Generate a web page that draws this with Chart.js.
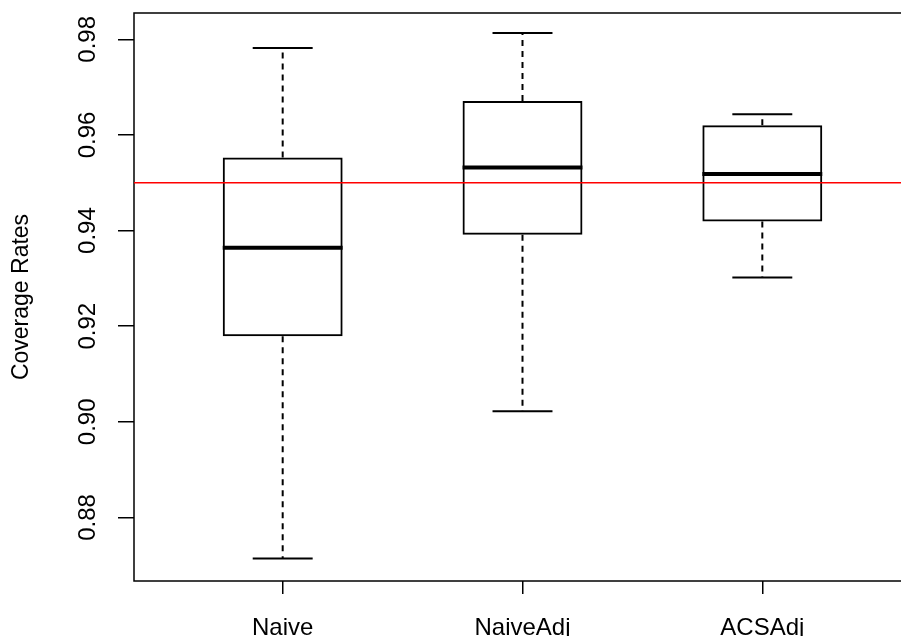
<!DOCTYPE html>
<html>
<head>
<meta charset="utf-8">
<script src="https://cdn.jsdelivr.net/npm/chart.js@4/dist/chart.umd.min.js"></script>
<style>
  html, body { margin: 0; padding: 0; background: #ffffff; overflow: hidden; }
  #wrap { width: 940px; height: 636px; }
</style>
</head>
<body>
<div id="wrap"><canvas id="c" width="940" height="636"></canvas></div>
<script>
// ---- data ----
const categories   = ['Naive', 'NaiveAdj', 'ACSAdj'];
const lowerWhisker = [0.8714, 0.9022, 0.9302];
const q1Values     = [0.9179, 0.9391, 0.9419];
const medianValues = [0.9364, 0.9532, 0.9518];
const q3Values     = [0.9553, 0.9671, 0.9620];
const upperWhisker = [0.9782, 0.9813, 0.9643];
const yTickValues  = [0.88, 0.90, 0.92, 0.94, 0.96, 0.98];
const targetRate   = 0.95;

const FONT = "'Liberation Sans', Arial, 'DejaVu Sans', sans-serif";

const boxPlotPlugin = {
  id: 'boxPlotExtras',
  afterDatasetsDraw(chart) {
    const ctx = chart.ctx;
    const xs = chart.scales.x, ys = chart.scales.y;
    const meta = chart.getDatasetMeta(0);
    const area = chart.chartArea;
    ctx.save();
    ctx.strokeStyle = '#000';
    ctx.lineCap = 'butt';
    categories.forEach((c, i) => {
      const cx = xs.getPixelForValue(i + 1);
      const hw = meta.data[i].width / 2;
      const capHalf = hw / 2;
      // dashed whiskers
      ctx.setLineDash([6, 5]);
      ctx.lineWidth = 2;
      ctx.beginPath();
      ctx.moveTo(cx, ys.getPixelForValue(q3Values[i]));
      ctx.lineTo(cx, ys.getPixelForValue(upperWhisker[i]));
      ctx.moveTo(cx, ys.getPixelForValue(q1Values[i]));
      ctx.lineTo(cx, ys.getPixelForValue(lowerWhisker[i]));
      ctx.stroke();
      // caps
      ctx.setLineDash([]);
      ctx.beginPath();
      const yu = ys.getPixelForValue(upperWhisker[i]);
      const yl = ys.getPixelForValue(lowerWhisker[i]);
      ctx.moveTo(cx - capHalf, yu); ctx.lineTo(cx + capHalf, yu);
      ctx.moveTo(cx - capHalf, yl); ctx.lineTo(cx + capHalf, yl);
      ctx.stroke();
      // median
      ctx.lineWidth = 4;
      const ym = ys.getPixelForValue(medianValues[i]);
      ctx.beginPath();
      ctx.moveTo(cx - hw, ym); ctx.lineTo(cx + hw, ym);
      ctx.stroke();
    });
    // plot frame
    ctx.lineWidth = 1.5;
    ctx.strokeRect(area.left, area.top, area.right - area.left, area.bottom - area.top);
    // reference line
    const yt = ys.getPixelForValue(targetRate);
    ctx.strokeStyle = '#ff0000';
    ctx.lineWidth = 1.5;
    ctx.beginPath();
    ctx.moveTo(area.left, yt); ctx.lineTo(area.right, yt);
    ctx.stroke();
    ctx.restore();
  }
};

new Chart(document.getElementById('c'), {
  type: 'bar',
  data: {
    datasets: [{
      data: categories.map((c, i) => ({ x: i + 1, y: [q1Values[i], q3Values[i]] })),
      backgroundColor: 'rgba(0,0,0,0)',
      borderColor: '#000',
      borderWidth: 2,
      borderSkipped: false,
      barPercentage: 0.5,
      categoryPercentage: 1
    }]
  },
  options: {
    responsive: false,
    animation: false,
    events: [],
    layout: { padding: { top: 13, right: 29, left: 0, bottom: 0 } },
    plugins: { legend: { display: false }, tooltip: { enabled: false } },
    scales: {
      x: {
        type: 'linear',
        min: 0.38, max: 3.62,
        offset: false,
        afterBuildTicks: s => { s.ticks = categories.map((c, i) => ({ value: i + 1 })); },
        afterFit: s => { s.height = 55; s.paddingLeft = 0; s.paddingRight = 0; },
        ticks: {
          callback: v => categories[Math.round(v) - 1],
          font: { family: FONT, size: 24 },
          color: '#000',
          padding: 20,
          maxRotation: 0, minRotation: 0,
          autoSkip: false
        },
        grid: { drawOnChartArea: false, drawTicks: true, tickLength: 13, color: '#000', lineWidth: 1.5, offset: false },
        border: { display: false }
      },
      y: {
        type: 'linear',
        min: 0.8667, max: 0.9855,
        afterBuildTicks: s => { s.ticks = yTickValues.map(v => ({ value: v })); },
        afterFit: s => { s.width = 134; s.paddingTop = 0; s.paddingBottom = 0; },
        ticks: {
          callback: v => Number(v).toFixed(2),
          font: { family: FONT, size: 24 },
          color: '#000',
          minRotation: 90, maxRotation: 90,
          crossAlign: 'center',
          padding: 6,
          autoSkip: false
        },
        grid: { drawOnChartArea: false, drawTicks: true, tickLength: 16, color: '#000', lineWidth: 1.5 },
        border: { display: false },
        title: {
          display: true,
          text: 'Coverage Rates',
          font: { family: FONT, size: 23 },
          color: '#000',
          padding: { top: 8, bottom: 0 }
        }
      }
    }
  },
  plugins: [boxPlotPlugin]
});
</script>
</body>
</html>
